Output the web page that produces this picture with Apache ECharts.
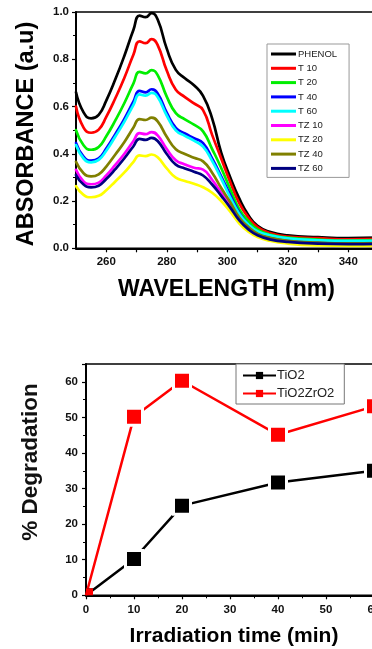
<!DOCTYPE html>
<html>
<head>
<meta charset="utf-8">
<script src="https://cdn.jsdelivr.net/npm/echarts@6/dist/echarts.min.js"></script>
<style>
  html, body { margin: 0; padding: 0; background: #fff; overflow: hidden; }
  #chart { width: 400px; height: 649px; }
</style>
</head>
<body>
<div id="chart"></div>
<script>
// UV-Vis absorbance spectra (a.u.) sampled along the wavelength axis (nm)
const wavelength = [250, 252.5, 255, 257.5, 260, 263, 266, 269, 271, 273, 275, 277, 280, 283, 286, 289, 292, 295, 298, 301, 304, 307, 310, 314, 320, 330, 340, 350];
const phenol = [0.66, 0.575, 0.55, 0.565, 0.625, 0.715, 0.815, 0.925, 0.985, 0.978, 0.995, 0.968, 0.845, 0.755, 0.72, 0.69, 0.645, 0.55, 0.405, 0.30, 0.21, 0.14, 0.095, 0.07, 0.055, 0.047, 0.043, 0.045];
const t10 = [0.6, 0.511, 0.489, 0.502, 0.556, 0.635, 0.722, 0.82, 0.876, 0.868, 0.885, 0.86, 0.752, 0.671, 0.64, 0.613, 0.585, 0.48, 0.38, 0.28, 0.19, 0.13, 0.09, 0.065, 0.05, 0.043, 0.038, 0.04];
const t20 = [0.5, 0.436, 0.417, 0.429, 0.474, 0.541, 0.615, 0.698, 0.747, 0.74, 0.754, 0.733, 0.642, 0.572, 0.546, 0.523, 0.495, 0.42, 0.34, 0.25, 0.165, 0.115, 0.08, 0.058, 0.045, 0.037, 0.033, 0.035];
const t40 = [0.446, 0.388, 0.371, 0.381, 0.422, 0.483, 0.548, 0.622, 0.666, 0.66, 0.673, 0.655, 0.574, 0.51, 0.486, 0.466, 0.445, 0.38, 0.305, 0.225, 0.15, 0.1, 0.07, 0.05, 0.035, 0.027, 0.024, 0.025];
const t60 = [0.437, 0.38, 0.364, 0.374, 0.413, 0.473, 0.536, 0.607, 0.651, 0.646, 0.658, 0.64, 0.562, 0.499, 0.476, 0.456, 0.43, 0.37, 0.295, 0.215, 0.145, 0.1, 0.072, 0.055, 0.042, 0.034, 0.031, 0.032];
const tz10 = [0.332, 0.283, 0.271, 0.278, 0.308, 0.353, 0.4, 0.454, 0.487, 0.483, 0.492, 0.478, 0.42, 0.373, 0.355, 0.341, 0.333, 0.29, 0.235, 0.185, 0.125, 0.085, 0.058, 0.04, 0.028, 0.021, 0.019, 0.02];
const tz20 = [0.263, 0.226, 0.216, 0.222, 0.246, 0.283, 0.321, 0.366, 0.393, 0.39, 0.397, 0.385, 0.338, 0.299, 0.285, 0.273, 0.258, 0.235, 0.2, 0.155, 0.105, 0.07, 0.048, 0.032, 0.02, 0.012, 0.01, 0.011];
const tz40 = [0.366, 0.318, 0.304, 0.313, 0.346, 0.397, 0.45, 0.511, 0.547, 0.543, 0.553, 0.537, 0.472, 0.419, 0.399, 0.383, 0.368, 0.32, 0.255, 0.195, 0.13, 0.09, 0.062, 0.045, 0.032, 0.024, 0.021, 0.022];
const tz60 = [0.31, 0.27, 0.258, 0.265, 0.293, 0.335, 0.381, 0.432, 0.463, 0.459, 0.467, 0.454, 0.399, 0.354, 0.338, 0.324, 0.308, 0.27, 0.222, 0.172, 0.118, 0.08, 0.055, 0.038, 0.027, 0.02, 0.018, 0.019];

const spectraNames = ['PHENOL', 'T 10', 'T 20', 'T 40', 'T 60', 'TZ 10', 'TZ 20', 'TZ 40', 'TZ 60'];
const spectraValues = [phenol, t10, t20, t40, t60, tz10, tz20, tz40, tz60];
const spectraColors = ['#000000', '#ff0000', '#00ee00', '#0000ff', '#00ffff', '#ff00ff', '#ffff00', '#808000', '#000080'];

// Photocatalytic degradation (%) versus irradiation time (min)
const timeMin = [0, 10, 20, 40, 60];
const tio2 = [0, 10.2, 25.2, 31.7, 35.0];
const tio2zro2 = [0, 50.2, 60.3, 45.1, 53.1];

const FONT = '"Liberation Sans", Arial, Helvetica, sans-serif';

const chart = echarts.init(document.getElementById('chart'), null, { renderer: 'canvas' });

const spectraSeries = spectraNames.map((name, i) => ({
  name: name,
  type: 'line',
  xAxisIndex: 0,
  yAxisIndex: 0,
  smooth: 0.5,
  showSymbol: false,
  symbol: 'none',
  lineStyle: { width: 2.7, color: spectraColors[i], join: 'round', cap: 'round' },
  itemStyle: { color: spectraColors[i] },
  data: wavelength.map((w, j) => [w, spectraValues[i][j]]),
  z: 2
}));

function degradationData(values) {
  return timeMin.map((t, j) => {
    if (t === 0) {
      // the origin marker sits in the corner and only its inner quarter shows
      return { value: [t, values[j]], symbolSize: 7, symbolOffset: [3.5, -3.5], itemStyle: { borderWidth: 0 } };
    }
    return [t, values[j]];
  });
}

const degradationSeries = [
  { name: 'TiO2', values: tio2, color: '#000000' },
  { name: 'TiO2ZrO2', values: tio2zro2, color: '#ff0000' }
].map(s => ({
  name: s.name,
  type: 'line',
  xAxisIndex: 1,
  yAxisIndex: 1,
  symbol: 'rect',
  symbolSize: 17,
  clip: false,
  lineStyle: { width: 2.5, color: s.color },
  itemStyle: { color: s.color, borderColor: '#ffffff', borderWidth: 3 },
  data: degradationData(s.values),
  z: 3
}));

const tickLabel = { fontFamily: FONT, fontWeight: 'bold', fontSize: 11.5, color: '#111' };

const option = {
  animation: false,
  backgroundColor: '#ffffff',
  grid: [
    { left: 76, top: 12, width: 302.5, height: 236.3, show: true, borderColor: '#000', borderWidth: 1.5, backgroundColor: 'transparent' },
    { left: 86, top: 364, width: 312, height: 231.3, show: true, borderColor: '#000', borderWidth: 1.5, backgroundColor: 'transparent' }
  ],
  xAxis: [
    {
      type: 'value', gridIndex: 0, min: 250, max: 350, interval: 10,
      axisLine: { show: true, onZero: false, lineStyle: { color: '#000', width: 2 } },
      axisTick: { show: true, inside: false, length: 4, lineStyle: { color: '#000', width: 1.2 } },
      axisLabel: {
        ...tickLabel, margin: 8, showMinLabel: false, showMaxLabel: false,
        formatter: v => (v % 20 === 0 ? String(v) : '')
      },
      splitLine: { show: false }
    },
    {
      type: 'value', gridIndex: 1, min: 0, max: 65, interval: 10,
      axisLine: { show: true, onZero: false, lineStyle: { color: '#000', width: 2 } },
      axisTick: { show: true, length: 4, lineStyle: { color: '#000', width: 1.2 } },
      minorTick: { show: true, splitNumber: 2, length: 3, lineStyle: { color: '#000', width: 1 } },
      axisLabel: { ...tickLabel, margin: 9, showMaxLabel: false, formatter: v => (v % 10 === 0 ? String(v) : '') },
      splitLine: { show: false }
    }
  ],
  yAxis: [
    {
      type: 'value', gridIndex: 0, min: 0, max: 1.0, interval: 0.2,
      axisLine: { show: true, onZero: false, lineStyle: { color: '#000', width: 2 } },
      axisTick: { show: true, length: 4, lineStyle: { color: '#000', width: 1.2 } },
      minorTick: { show: true, splitNumber: 2, length: 3, lineStyle: { color: '#000', width: 1 } },
      axisLabel: { ...tickLabel, margin: 7, formatter: v => v.toFixed(1) },
      splitLine: { show: false }
    },
    {
      type: 'value', gridIndex: 1, min: 0, max: 65, interval: 10,
      axisLine: { show: true, onZero: false, lineStyle: { color: '#000', width: 2 } },
      axisTick: { show: true, length: 4, lineStyle: { color: '#000', width: 1.2 } },
      minorTick: { show: true, splitNumber: 2, length: 3, lineStyle: { color: '#000', width: 1 } },
      axisLabel: { ...tickLabel, margin: 8, showMaxLabel: false, formatter: v => (v % 10 === 0 ? String(v) : '') },
      splitLine: { show: false }
    }
  ],
  legend: [
    {
      data: spectraNames,
      orient: 'vertical',
      left: 267, top: 44,
      padding: [5, 12, 4, 4],
      itemGap: 4.3,
      itemWidth: 25, itemHeight: 3,
      icon: 'rect',
      borderColor: '#999', borderWidth: 1,
      backgroundColor: '#fff',
      textStyle: { fontFamily: FONT, fontSize: 9.5, color: '#222', padding: [0, 0, 0, -3], lineHeight: 10 },
      selectedMode: false
    },
    {
      data: ['TiO2', 'TiO2ZrO2'],
      orient: 'vertical',
      left: 236, top: 364,
      padding: [5, 10, 4, 6],
      itemGap: 5,
      itemWidth: 33, itemHeight: 9,
      borderColor: '#777', borderWidth: 1,
      backgroundColor: '#fff',
      itemStyle: { borderWidth: 0 },
      textStyle: { fontFamily: FONT, fontSize: 13, color: '#222', padding: [0, 0, 0, -4], lineHeight: 13 },
      selectedMode: false
    }
  ],
  graphic: [
    {
      type: 'text', x: 27, y: 134, rotation: Math.PI / 2,
      style: { text: 'ABSORBANCE (a.u)', font: 'bold 23.5px ' + FONT, fill: '#000', align: 'center', verticalAlign: 'middle' }
    },
    {
      type: 'text', x: 226.5, y: 290,
      style: { text: 'WAVELENGTH (nm)', font: 'bold 23px ' + FONT, fill: '#000', align: 'center', verticalAlign: 'middle' }
    },
    {
      type: 'text', x: 31, y: 462, rotation: Math.PI / 2,
      style: { text: '% Degradation', font: 'bold 22.5px ' + FONT, fill: '#111', align: 'center', verticalAlign: 'middle' }
    },
    {
      type: 'text', x: 234, y: 636,
      style: { text: 'Irradiation time (min)', font: 'bold 21px ' + FONT, fill: '#000', align: 'center', verticalAlign: 'middle' }
    }
  ],
  series: spectraSeries.concat(degradationSeries)
};

chart.setOption(option);
</script>
</body>
</html>
